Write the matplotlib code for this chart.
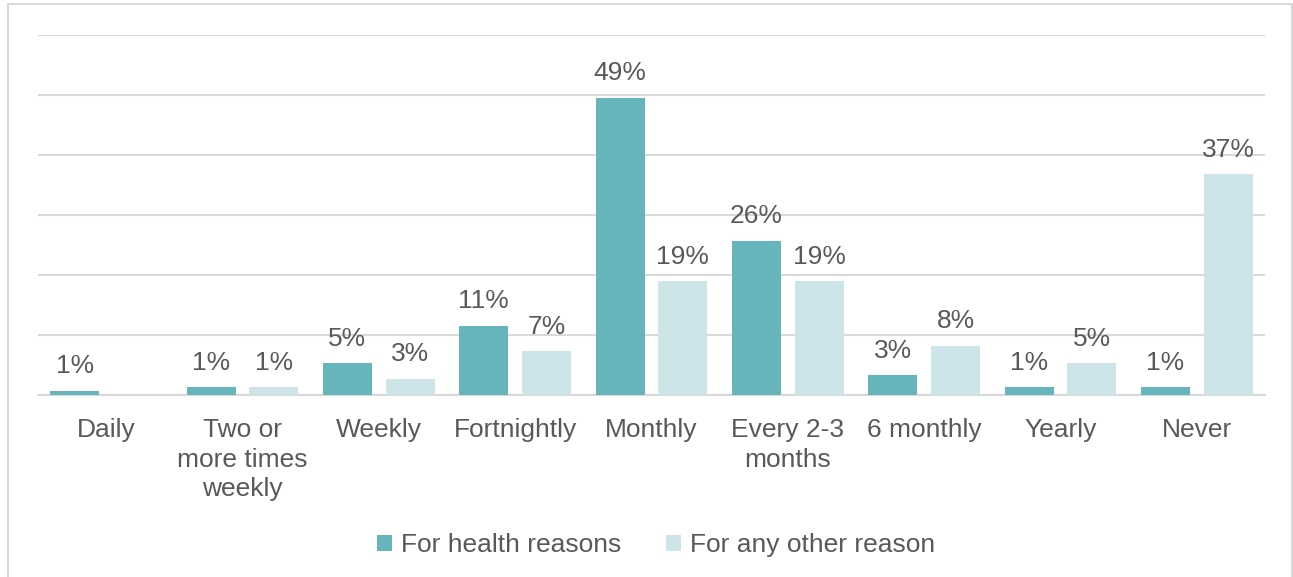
import matplotlib.pyplot as plt
import numpy as np
from matplotlib.patches import Rectangle

plt.rcParams["font.family"] = ["Liberation Sans", "DejaVu Sans"]

categories = ["Daily", "Two or\nmore times\nweekly", "Weekly", "Fortnightly", "Monthly",
              "Every 2-3\nmonths", "6 monthly", "Yearly", "Never"]
health = [0.7, 1.3, 5.3, 11.5, 49.5, 25.7, 3.3, 1.3, 1.3]
other = [0, 1.3, 2.7, 7.3, 19.0, 19.0, 8.2, 5.3, 36.8]
health_labels = ["1%", "1%", "5%", "11%", "49%", "26%", "3%", "1%", "1%"]
other_labels = ["", "1%", "3%", "7%", "19%", "19%", "8%", "5%", "37%"]

c_health = "#66B5BC"
c_other = "#CDE5E9"
txt = "#595959"
grid = "#D9D9D9"

W, H = 1293, 577
fig = plt.figure(figsize=(W / 100, H / 100), dpi=100)
ax = fig.add_axes([38 / W, 1 - 395 / H, (1265 - 38) / W, (395 - 35) / H])

x = np.arange(len(categories))
bw = 0.36
off = 0.23
b1 = ax.bar(x - off, health, bw, color=c_health, label="For health reasons", zorder=3)
b2 = ax.bar(x + off, other, bw, color=c_other, label="For any other reason", zorder=3)

for bars, labs in ((b1, health_labels), (b2, other_labels)):
    for b, lab in zip(bars, labs):
        if lab:
            ax.annotate(lab, (b.get_x() + b.get_width() / 2, b.get_height()),
                        xytext=(0, 9), textcoords="offset points",
                        ha="center", va="bottom", fontsize=19, color=txt)

ax.set_xlim(-0.5, len(categories) - 0.5)
ax.set_ylim(0, 60)
ax.set_yticks(np.arange(0, 61, 10))
ax.yaxis.grid(True, color=grid, linewidth=1.5, zorder=0)
ax.tick_params(left=False, labelleft=False, bottom=False)
ax.set_xticks(x)
ax.set_xticklabels(categories, fontsize=19, color=txt, linespacing=1.3)
ax.tick_params(axis="x", pad=13)
for s in ["top", "right", "left"]:
    ax.spines[s].set_visible(False)
ax.spines["bottom"].set_color(grid)
ax.spines["bottom"].set_linewidth(1.5)

leg = fig.legend(loc="center", bbox_to_anchor=(656 / W, 1 - 545 / H), ncol=2,
                 frameon=False, fontsize=19, handlelength=0.55, handleheight=0.55,
                 handletextpad=0.35, columnspacing=1.7)
for t in leg.get_texts():
    t.set_color(txt)

fig.patches.append(Rectangle((8 / W, -0.05), (1292 - 8) / W, 1.05 - 4 / H,
                             transform=fig.transFigure, fill=False,
                             edgecolor=grid, linewidth=1.5))

fig.savefig("out.png", dpi=100)
